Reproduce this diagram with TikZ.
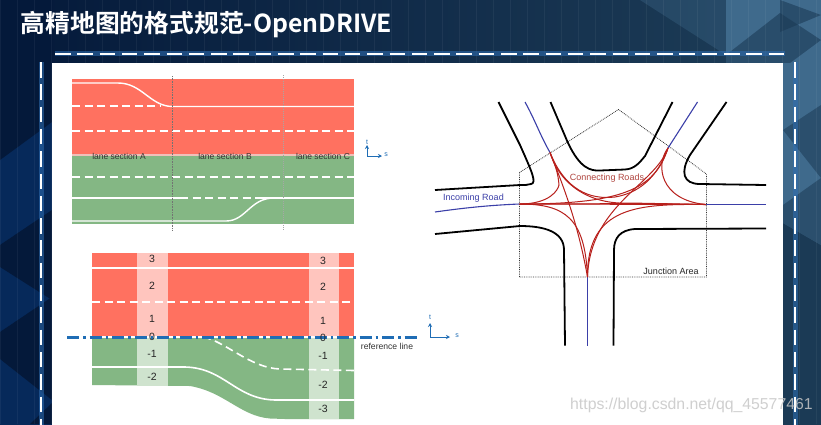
\documentclass[tikz,border=0pt]{standalone}
\usepackage{fontspec}
\setmainfont{Liberation Sans}
\newfontfamily\cjk{Noto Sans CJK SC}[BoldFont={Noto Sans CJK SC Bold}]
\usetikzlibrary{arrows.meta,calc}
\definecolor{night}{HTML}{04193A}
\definecolor{deep}{HTML}{06295A}
\definecolor{slate}{HTML}{1B3A55}
\definecolor{steel}{HTML}{3F6A8C}
\definecolor{glow}{HTML}{2F6FB5}
\definecolor{lanered}{HTML}{FF7160}
\definecolor{lanegreen}{HTML}{84B784}
\definecolor{colred}{HTML}{FFC5BE}
\definecolor{colgreen}{HTML}{CFE3CE}
\definecolor{refblue}{HTML}{1F6DB5}
\definecolor{roadblue}{HTML}{3B3FA8}
\definecolor{connred}{HTML}{B8201C}
\definecolor{connlabel}{HTML}{B0453F}
\tikzset{frameglow/.style={draw=glow,line width=5pt,opacity=.55},framedash/.style={draw=white,line width=2pt,dash pattern=on 15.5pt off 6.8pt},lanesolid/.style={draw=white,line width=1.4pt},lanedash/.style={draw=white,line width=1.6pt,dash pattern=on 8pt off 4.5pt},lanetext/.style={font=\fontsize{8.5}{9}\selectfont,text=black!80,inner sep=0pt},numtext/.style={font=\fontsize{10.5}{11}\selectfont,text=black!85,inner sep=0pt},axis/.style={-{Stealth[length=4pt,width=4pt]},draw=refblue,fill=refblue,line width=1pt},axistext/.style={font=\fontsize{7}{8}\selectfont,text=refblue,inner sep=0pt},road/.style={draw=black,line width=1.8pt},roadline/.style={draw=roadblue,line width=1.1pt},conn/.style={draw=connred,line width=1pt},area/.style={draw=black!80,line width=.8pt,densely dotted}}
\begin{document}
\begin{tikzpicture}[x=1pt,y=-1pt]
\useasboundingbox (0,0) rectangle (821,424);
\fill[deep] (0,0) rectangle (120,426);
\fill[slate] (120,0) rectangle (821,426);
\shade[left color=night,right color=slate] (0,0) rectangle (720,63);
\fill[night] (0,0) -- (52,0) -- (52,122) -- (0,160) -- cycle;
\fill[night] (0,245) -- (52,210) -- (52,300) -- (0,267) -- cycle;
\fill[night] (0,332) -- (52,297) -- (52,400) -- (0,359) -- cycle;
\fill[night] (30,424) -- (52,403) -- (52,424) -- cycle;
\fill[steel,opacity=.35] (640,0) -- (726,0) -- (726,55) -- cycle;
\fill[steel] (726,0) -- (821,0) -- (821,63) -- (726,63) -- cycle;
\fill[slate,opacity=.6] (780,0) -- (821,15) -- (780,32) -- cycle;
\fill[slate,opacity=.6] (726,55) -- (780,13) -- (821,40) -- (790,63) -- (726,63) -- cycle;
\fill[steel] (783,63) -- (821,63) -- (821,245) -- (783,223) -- cycle;
\fill[slate,opacity=.55] (783,130) -- (821,105) -- (821,178) -- cycle;
\fill[slate,opacity=.55] (783,205) -- (821,178) -- (821,245) -- (783,223) -- cycle;
\draw[white,opacity=.05,line width=.5pt,step=17] (0,0) grid (821,424);
\fill[white] (52,63) rectangle (783,426);
\draw[frameglow] (55,53.5) -- (785,53.5);
\draw[frameglow] (41,62) -- (41,426);
\draw[frameglow] (795,62) -- (795,426);
\draw[framedash] (55,53.5) -- (785,53.5);
\draw[framedash] (41,62) -- (41,426);
\draw[framedash] (795,62) -- (795,426);
\node[anchor=west,inner sep=0pt,text=white,font=\cjk\bfseries\fontsize{24.8}{28}\selectfont] (title) at (20.5,25) {高精地图的格式规范-OpenDRIVE};
\fill[lanered] (72,79) rectangle (354,155);
\fill[lanegreen] (72,155.5) rectangle (354,224);
\draw[draw=black!15!lanered!40!white,line width=1.5pt] (72,155) -- (354,155);
\draw[lanesolid] (72,83) -- (118,83) .. controls (142,83) and (150,106) .. (172,106.5) -- (354,106.5);
\draw[lanedash] (72,106) -- (160,106);
\draw[lanedash] (72,131) -- (354,131);
\draw[lanedash] (72,177) -- (354,177);
\draw[lanesolid] (72,198) -- (180,198);
\draw[lanedash] (180,198) -- (268,198);
\draw[lanesolid] (262,198) -- (354,198);
\draw[lanesolid] (72,221) -- (226,221) .. controls (246,221) and (250,198) .. (274,198);
\draw[black!55,line width=.6pt,densely dotted] (172.5,76) -- (172.5,230);
\draw[black!35,line width=1pt,densely dotted] (283,75) -- (283,231);
\node[lanetext] (secA) at (119,156) {lane section A};
\node[lanetext] (secB) at (225,156) {lane section B};
\node[lanetext] (secC) at (323,156) {lane section C};
\coordinate (oa) at (367,156);
\draw[axis] (oa) -- ++(0,-11);
\draw[axis] (oa) -- ++(15,0);
\node[axistext] (ta) at (367,142) {t};
\node[axistext] (sa) at (386,155) {s};
\fill[lanered] (92,253) rectangle (354,337);
\fill[lanegreen] (92,337) -- (354,337) -- (354,419) -- (285,419) -- (270,418.5) .. controls (240,416) and (225,392) .. (190,386) -- (92,385) -- cycle;
\fill[colred] (137,253) rectangle (168,337);
\fill[colred] (309,253) rectangle (339,337);
\fill[colgreen] (137,337) rectangle (168,386);
\fill[colgreen] (309,337) rectangle (339,419);
\draw[lanesolid,line width=1.6pt] (92,268) -- (354,268);
\draw[lanedash,line width=2pt] (92,302) -- (350,302);
\draw[lanesolid] (92,337) -- (354,337);
\draw[lanedash] (203,337) .. controls (225,341) and (250,368) .. (280,369) -- (354,370.5);
\draw[lanesolid,line width=1.6pt] (92,367) -- (185,367) .. controls (225,368) and (235,399) .. (275,400) -- (354,400);
\draw[draw=refblue,line width=2.2pt,dash pattern=on 12pt off 4pt on 2.5pt off 4pt] (67,337.5) -- (420,337.5);
\foreach \lab/\y [count=\i] in {3/259,2/286,1/319,0/337,-1/354,-2/377}
  \node[numtext] (la\i) at (152,\y) {\lab};
\foreach \lab/\y [count=\i] in {3/261,2/287,1/321,0/338,-1/356,-2/385,-3/409}
  \node[numtext] (lb\i) at (323,\y) {\lab};
\node[inner sep=0pt,text=black!80,font=\fontsize{8.6}{10}\selectfont] (refl) at (387,346) {reference line};
\coordinate (ob) at (430,337);
\draw[axis] (ob) -- ++(0,-14);
\draw[axis] (ob) -- ++(20,0);
\node[axistext] (tb) at (430,317) {t};
\node[axistext] (sb) at (457,336) {s};
\coordinate (jw) at (519.5,204);
\coordinate (jn) at (550,152.5);
\coordinate (je) at (668,148);
\coordinate (jo) at (705.5,204.5);
\coordinate (js) at (587.5,277);
\draw[area] (519.5,277) -- (519.5,172.5) -- (618.5,109.5) -- (706.5,174) -- (706.5,277) -- cycle;
\draw[road] (498.5,102) -- (520,145) .. controls (532,172) and (537,183) .. (531,184) .. controls (528,185) and (525,185) .. (520,185) -- (435,190);
\draw[road] (550.5,102) -- (568,143) .. controls (580,168) and (590,171) .. (600,170.5) -- (625,169.5) .. controls (635,169) and (640,162) .. (645,156) -- (672.5,102);
\draw[road] (726.5,102) -- (690,155) .. controls (680,172) and (683,184) .. (700,184) -- (766,185);
\draw[road] (435,234) -- (520,226) .. controls (545,226) and (564,232) .. (564,250) -- (565,345.5);
\draw[road] (766,228.5) -- (635,229) .. controls (620,230) and (614,238) .. (614,250) -- (613.5,345.5);
\draw[roadline] (525,102) .. controls (535,120) and (540,135) .. (jn);
\draw[roadline] (697.5,102) -- (je);
\draw[roadline] (435,212) .. controls (470,207) and (495,205) .. (jw);
\draw[roadline] (jo) -- (766,204.5);
\draw[roadline] (js) -- (587.5,345.5);
\draw[conn] (jw) -- (jo);
\draw[conn] (jw) .. controls (550,204) and (560,204) .. (640,203.5) -- (jo);
\draw[conn] (jw) .. controls (550,204) and (558,190) .. (559,185) .. controls (558,172) and (555,165) .. (jn);
\draw[conn] (jw) .. controls (565,204) and (585,218) .. (js);
\draw[conn] (jn) -- (560,178) .. controls (570,205) and (580,235) .. (js);
\draw[conn] (jn) .. controls (560,185) and (590,205) .. (630,203) -- (jo);
\draw[conn] (jn) .. controls (565,190) and (590,200) .. (615,197) .. controls (645,192) and (660,170) .. (je);
\draw[conn] (je) .. controls (655,165) and (660,200) .. (jo);
\draw[conn] (je) .. controls (655,190) and (620,204) .. (jw);
\draw[conn] (je) .. controls (655,185) and (590,205) .. (js);
\draw[conn] (jo) .. controls (640,204) and (587,205) .. (js);
\node[inner sep=0pt,text=connlabel,font=\fontsize{9}{10}\selectfont] (connl) at (607,178) {Connecting Roads};
\node[inner sep=0pt,text=roadblue,font=\fontsize{9}{10}\selectfont] (incl) at (473.5,198) {Incoming Road};
\node[inner sep=0pt,text=black!85,font=\fontsize{9}{10}\selectfont] (juncl) at (671,271) {Junction Area};
\node[anchor=west,inner sep=0pt,text=black!22,opacity=.85,font=\fontsize{15.8}{18}\selectfont] (mark) at (570,405) {https://blog.csdn.net/qq\_45577461};
\end{tikzpicture}
\end{document}
